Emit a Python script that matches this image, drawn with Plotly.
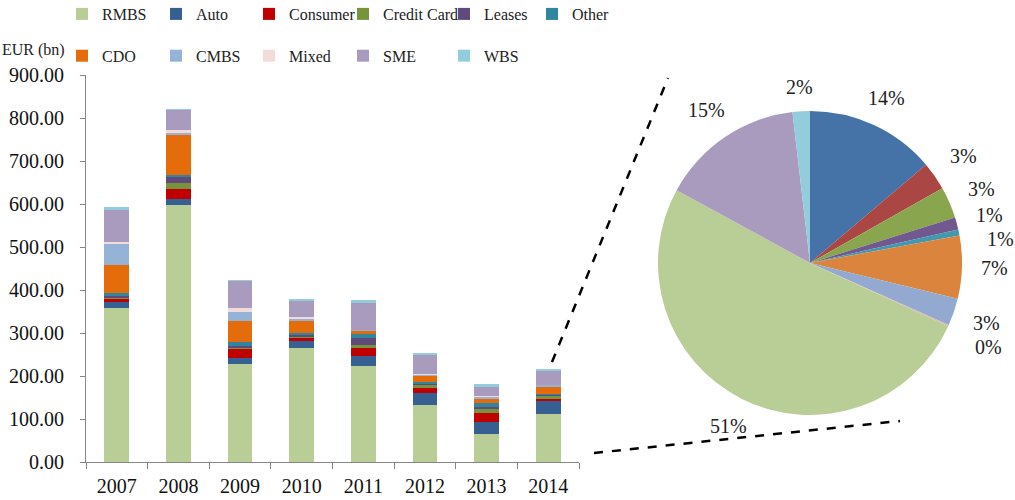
import math
import plotly.graph_objects as go

years = ["2007", "2008", "2009", "2010", "2011", "2012", "2013", "2014"]
series = ["RMBS", "Auto", "Consumer", "Credit Card", "Leases", "Other",
          "CDO", "CMBS", "Mixed", "SME", "WBS"]

rmbs     = [358, 598, 229, 266, 223, 132, 65, 111]
auto     = [14, 14, 14, 16, 24, 29, 28, 30]
consumer = [8, 24, 20, 8, 18, 12, 20, 6.5]
credit   = [2, 14, 1, 3, 7, 7, 11, 7.3]
leases   = [3, 13, 6, 3, 17, 2, 4, 2.8]
other    = [9, 4, 10, 3, 8, 3, 9, 1.4]
cdo      = [63, 94, 48, 30, 9, 14, 10, 14.5]
cmbs     = [49, 5, 20, 4, 1, 5, 6, 6.3]
mixed    = [5, 5, 9, 4, 1, 0.5, 0.5, 0.3]
sme      = [75, 48, 64, 38, 62, 46, 23, 33]
wbs      = [8, 1, 2, 5, 6, 3, 4, 4]

values = [rmbs, auto, consumer, credit, leases, other, cdo, cmbs, mixed, sme, wbs]

bar_colors = ["#B9CD96", "#366092", "#C00000", "#77933C", "#604A7B", "#31859C",
              "#E46C0A", "#95B3D7", "#F2DCDB", "#A99BBD", "#93CDDD"]
pie_colors = ["#B9CD96", "#4572A7", "#AA4643", "#89A54E", "#71588F", "#4198AF",
              "#DB843D", "#93A9CF", "#D9B3B2", "#A99BBD", "#93CDDD"]

# order of slices clockwise from 12 o'clock in the pie
pie_order = ["Auto", "Consumer", "Credit Card", "Leases", "Other", "CDO",
             "CMBS", "Mixed", "RMBS", "SME", "WBS"]

W, H = 1015, 500
FONT = "Liberation Serif, Times New Roman, serif"

# legend columns: text start (px) of each column
legend_text_x = [103, 197, 290, 384, 485, 573]

fig = go.Figure()
for i, name in enumerate(series):
    col = i % 6
    fig.add_trace(go.Bar(
        x=years, y=values[i], name=name,
        marker=dict(color=bar_colors[i], line=dict(width=0)),
        legend="legend" if col == 0 else f"legend{col + 1}",
        legendgroup=name,
        hoverinfo="name+y",
    ))

# pie of last year
idx = [series.index(n) for n in pie_order]
pie_vals = [values[k][-1] for k in idx]
pie_cols = [pie_colors[k] for k in idx]

cx, cy, R = 810, 263, 152
fig.add_trace(go.Pie(
    labels=pie_order, values=pie_vals, sort=False, direction="clockwise",
    rotation=0, marker=dict(colors=pie_cols, line=dict(width=0)),
    textinfo="none", showlegend=False,
    domain=dict(x=[(cx - R) / W, (cx + R) / W], y=[1 - (cy + R) / H, 1 - (cy - R) / H]),
))

# percentage labels placed around the pie from the slice angles
total = sum(pie_vals)
cum = 0
pos = []
for v in pie_vals:
    mid = (cum + v / 2) / total
    cum += v
    th = 2 * math.pi * mid
    s, c = math.sin(th), math.cos(th)
    r = R + 12 + 20 * abs(s) + 11 * abs(c)
    px, py = cx + r * s, cy - r * c
    pos.append([px, py, s])
# simple collision avoidance for right side labels
last_y = None
for p in pos:
    if p[2] > 0.3:
        if last_y is not None and p[1] < last_y + 24:
            p[1] = last_y + 24
            p[0] += 8
        last_y = p[1]
for v, p in zip(pie_vals, pos):
    fig.add_annotation(x=p[0] / W, y=1 - p[1] / H, xref="paper", yref="paper",
                       xanchor="center", yanchor="middle",
                       text=f"{round(100 * v / total):.0f}%", showarrow=False,
                       font=dict(family=FONT, size=20, color="#222"))

fig.add_annotation(x=33 / W, y=1 - 50 / H, xref="paper", yref="paper", text="EUR (bn)",
                   xanchor="center", yanchor="middle",
                   showarrow=False, font=dict(family=FONT, size=16, color="#222"))

# zoom connector lines
fig.add_shape(type="line", xref="paper", yref="paper", x0=552 / W, y0=1 - 362 / H,
              x1=668 / W, y1=1 - 78 / H, line=dict(color="black", width=2.5, dash="dash"))
fig.add_shape(type="line", xref="paper", yref="paper", x0=594 / W, y0=1 - 453 / H,
              x1=900 / W, y1=1 - 421 / H, line=dict(color="black", width=2.5, dash="dash"))

legend_common = dict(orientation="v", xanchor="left", yanchor="top", traceorder="grouped",
                     tracegroupgap=18, font=dict(family=FONT, size=16, color="#222"),
                     bgcolor="rgba(0,0,0,0)", itemclick=False, itemdoubleclick=False)
legends = {}
for col, tx in enumerate(legend_text_x):
    key = "legend" if col == 0 else f"legend{col + 1}"
    legends[key] = dict(x=(tx - 41) / W, y=1 + 3 / H, **legend_common)

fig.update_layout(
    width=W, height=H,
    margin=dict(l=0, r=0, t=0, b=0, autoexpand=False),
    paper_bgcolor="white", plot_bgcolor="white",
    barmode="stack", bargap=0.6,
    font=dict(family=FONT, size=20, color="#222"),
    xaxis=dict(domain=[86 / W, 579 / W], showline=True, linecolor="#868686", linewidth=1,
               ticks="outside", tickson="boundaries", ticklen=6, tickcolor="#868686",
               showgrid=False, automargin=False, ticklabelstandoff=6,
               tickfont=dict(family=FONT, size=20, color="#111")),
    yaxis=dict(domain=[1 - 462 / H, 1 - 75 / H], range=[0, 900], dtick=100, tickformat=".2f",
               showline=True, linecolor="#868686", linewidth=1, ticks="outside", ticklen=5,
               tickcolor="#868686", showgrid=False, zeroline=False, automargin=False,
               ticklabelstandoff=12,
               tickfont=dict(family=FONT, size=20, color="#111")),
    **legends,
)

fig.write_html("out.html", config={"displayModeBar": False},
               post_script="document.body.style.margin='0';document.body.style.overflow='hidden';")
